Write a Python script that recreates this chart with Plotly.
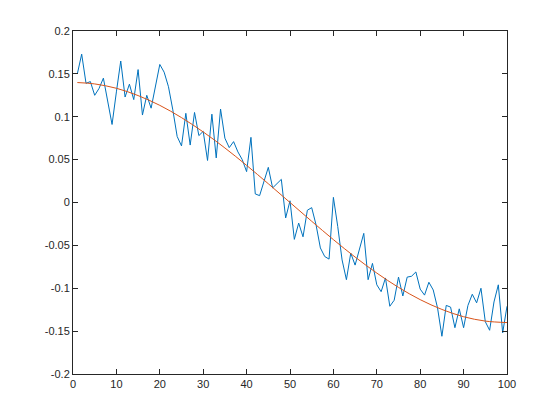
import plotly.graph_objects as go

x_noisy = list(range(1, 101))
y_noisy = [
    0.150, 0.173, 0.139, 0.141, 0.125, 0.133, 0.145, 0.118, 0.091, 0.129,
    0.165, 0.123, 0.138, 0.120, 0.155, 0.102, 0.125, 0.110, 0.135, 0.161,
    0.152, 0.135, 0.108, 0.077, 0.066, 0.104, 0.067, 0.105, 0.078, 0.083,
    0.049, 0.103, 0.052, 0.109, 0.075, 0.064, 0.071, 0.059, 0.050, 0.036,
    0.076, 0.010, 0.008, 0.025, 0.041, 0.017, 0.022, 0.027, -0.018, 0.002,
    -0.043, -0.024, -0.040, -0.009, -0.006, -0.026, -0.053, -0.063, -0.066, 0.006,
    -0.028, -0.067, -0.090, -0.059, -0.073, -0.053, -0.036, -0.090, -0.071, -0.096,
    -0.104, -0.088, -0.121, -0.114, -0.087, -0.109, -0.087, -0.086, -0.081, -0.101,
    -0.108, -0.093, -0.102, -0.123, -0.156, -0.120, -0.122, -0.146, -0.124, -0.146,
    -0.120, -0.107, -0.117, -0.100, -0.139, -0.149, -0.116, -0.096, -0.152, -0.121,
]

x_smooth = [1, 5, 10, 15, 20, 25, 30, 35, 40, 45, 50, 55, 60, 65, 70, 75, 80, 85, 90, 95, 100]
y_smooth = [0.1399, 0.1383, 0.1332, 0.1247, 0.1133, 0.0990, 0.0823, 0.0636, 0.0433, 0.0219, 0.0,
            -0.0219, -0.0433, -0.0636, -0.0823, -0.0990, -0.1133, -0.1247, -0.1332, -0.1383, -0.1400]

x_ticks = [0, 10, 20, 30, 40, 50, 60, 70, 80, 90, 100]
y_ticks = [-0.2, -0.15, -0.1, -0.05, 0, 0.05, 0.1, 0.15, 0.2]
y_ticklabels = ["-0.2", "-0.15", "-0.1", "-0.05", "0", "0.05", "0.1", "0.15", "0.2"]

fig = go.Figure()
fig.add_trace(go.Scatter(x=x_noisy, y=y_noisy, mode="lines",
                         line=dict(color="#0072BD", width=1)))
fig.add_trace(go.Scatter(x=x_smooth, y=y_smooth, mode="lines",
                         line=dict(color="#D95319", width=1, shape="spline")))

axis_common = dict(showgrid=False, zeroline=False, showline=True, linecolor="#262626",
                   linewidth=1, mirror="ticks", ticks="inside", ticklen=5,
                   tickcolor="#262626", tickfont=dict(family="Liberation Sans, Arial", size=11, color="#262626"))

fig.update_layout(
    width=560, height=420,
    margin=dict(l=73, r=53, t=31, b=46),
    paper_bgcolor="white", plot_bgcolor="white",
    showlegend=False,
    xaxis=dict(range=[0, 100], tickvals=x_ticks, **axis_common),
    yaxis=dict(range=[-0.2, 0.2], tickvals=y_ticks, ticktext=y_ticklabels, **axis_common),
)

fig.write_html("out.html")
